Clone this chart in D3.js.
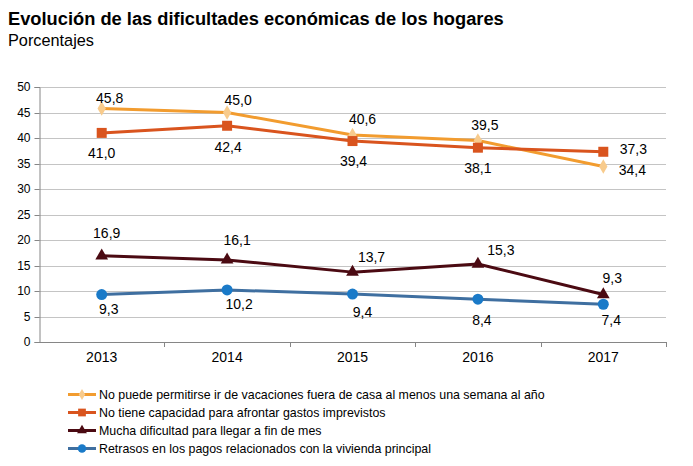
<!DOCTYPE html>
<html><head><meta charset="utf-8">
<script src="https://cdn.jsdelivr.net/npm/d3@7"></script>
<style>body{margin:0;background:#fff}svg{display:block;font-family:"Liberation Sans",Arial,sans-serif}</style>
</head><body>
<svg id="c" width="693" height="466"></svg>
<script>
const years = ["2013","2014","2015","2016","2017"];
const seriesNames = [
  "No puede permitirse ir de vacaciones fuera de casa al menos una semana al año",
  "No tiene capacidad para afrontar gastos imprevistos",
  "Mucha dificultad para llegar a fin de mes",
  "Retrasos en los pagos relacionados con la vivienda principal"
];
const vacaciones = [45.8, 45.0, 40.6, 39.5, 34.4];
const imprevistos = [41.0, 42.4, 39.4, 38.1, 37.3];
const finDeMes = [16.9, 16.1, 13.7, 15.3, 9.3];
const retrasos = [9.3, 10.2, 9.4, 8.4, 7.4];
const yTicks = [0,5,10,15,20,25,30,35,40,45,50];

// label placement (layout only): [dx, dy of text centre] per point
const labelOffsets = [
  [[8,-10],[11,-13],[10,-16],[7,-16],[29,3]],
  [[0,20],[1,21],[1,20],[0,20],[30,-3]],
  [[5,-23],[10,-20],[19,-15],[23,-14],[9,-17]],
  [[7,14],[12,14],[10,18],[4,21],[8,16]]
];

const series = [
  {name: seriesNames[0], values: vacaciones, line: "#F29C2F", fill: "#F8CB8C", sym: d3.symbolDiamond, size: 60},
  {name: seriesNames[1], values: imprevistos, line: "#D9541E", fill: "#D9541E", sym: d3.symbolSquare, size: 100},
  {name: seriesNames[2], values: finDeMes, line: "#4B0A12", fill: "#4B0A12", sym: d3.symbolTriangle, size: 70},
  {name: seriesNames[3], values: retrasos, line: "#3F6FA0", fill: "#1A7AC8", sym: d3.symbolCircle, size: 95}
];

const svg = d3.select("#c");
const L = 39, R = 666, T = 87, B = 342;
const x = d3.scaleBand().domain(years).range([L, R]);
const y = d3.scaleLinear().domain([0, 50]).range([B, T]);

svg.append("text").attr("x", 8).attr("y", 25).attr("font-size", 18.3).attr("font-weight", "bold").attr("fill", "#000")
  .text("Evolución de las dificultades económicas de los hogares");
svg.append("text").attr("x", 8).attr("y", 46).attr("font-size", 16.3).attr("fill", "#000").text("Porcentajes");

// gridlines
svg.append("g").selectAll("line").data(yTicks.filter(d => d > 0)).join("line")
  .attr("x1", L).attr("x2", R).attr("y1", d => Math.round(y(d)) + 0.5).attr("y2", d => Math.round(y(d)) + 0.5)
  .attr("stroke", "#C4C4C4").attr("stroke-width", 1);

// y axis
const ya = svg.append("g").attr("transform", `translate(${L + 0.5},0)`)
  .call(d3.axisLeft(y).tickValues(yTicks).tickSize(5).tickPadding(4).tickFormat(d3.format("d")));
ya.select(".domain").attr("stroke", "#868686");
ya.selectAll(".tick line").attr("stroke", "#868686");
ya.selectAll(".tick text").attr("font-size", 12).attr("fill", "#000").attr("font-family", "Liberation Sans, Arial, sans-serif");
ya.selectAll(".tick").attr("transform", d => `translate(0,${Math.round(y(d)) + 0.5})`);

// x axis
const xa = svg.append("g").attr("transform", `translate(0,${B + 0.5})`)
  .call(d3.axisBottom(x).tickSize(0).tickPadding(10));
xa.select(".domain").attr("stroke", "#868686").attr("d", `M${L},0H${R}`);
xa.selectAll(".tick text").attr("font-size", 14).attr("fill", "#000").attr("font-family", "Liberation Sans, Arial, sans-serif");
svg.append("g").selectAll("line").data(years).join("line")
  .attr("x1", (d, i) => Math.round(x(d) + x.step()) + 0.5)
  .attr("x2", (d, i) => Math.round(x(d) + x.step()) + 0.5)
  .attr("y1", B).attr("y2", B + 5).attr("stroke", "#868686");

const cx = d => x(d) + x.bandwidth() / 2;
const fmt = v => v.toFixed(1).replace(".", ",");
const line = d3.line().x((d, i) => cx(years[i])).y(d => y(d));

series.forEach(s => {
  svg.append("path").datum(s.values).attr("d", line).attr("fill", "none")
    .attr("stroke", s.line).attr("stroke-width", 3).attr("stroke-linejoin", "round");
});
series.forEach(s => {
  svg.append("g").selectAll("path").data(s.values).join("path")
    .attr("transform", (d, i) => `translate(${cx(years[i])},${y(d)})`)
    .attr("d", d3.symbol().type(s.sym).size(s.size)).attr("fill", s.fill);
});
// labels
series.forEach((s, si) => {
  svg.append("g").selectAll("text").data(s.values).join("text")
    .attr("x", (d, i) => cx(years[i]) + labelOffsets[si][i][0])
    .attr("y", (d, i) => y(d) + labelOffsets[si][i][1] + 5)
    .attr("text-anchor", "middle").attr("font-size", 14).attr("fill", "#000")
    .text(d => fmt(d));
});

// legend
const lg = svg.append("g");
series.forEach((s, i) => {
  const yy = 394.5 + i * 18;
  lg.append("line").attr("x1", 68).attr("x2", 96).attr("y1", yy).attr("y2", yy).attr("stroke", s.line).attr("stroke-width", 3);
  lg.append("path").attr("transform", `translate(82,${yy})`).attr("d", d3.symbol().type(s.sym).size(s.size * 0.6)).attr("fill", s.fill);
  lg.append("text").attr("x", 99).attr("y", yy + 4.5).attr("font-size", 12.4).attr("fill", "#000").text(s.name);
});
</script>
</body></html>
